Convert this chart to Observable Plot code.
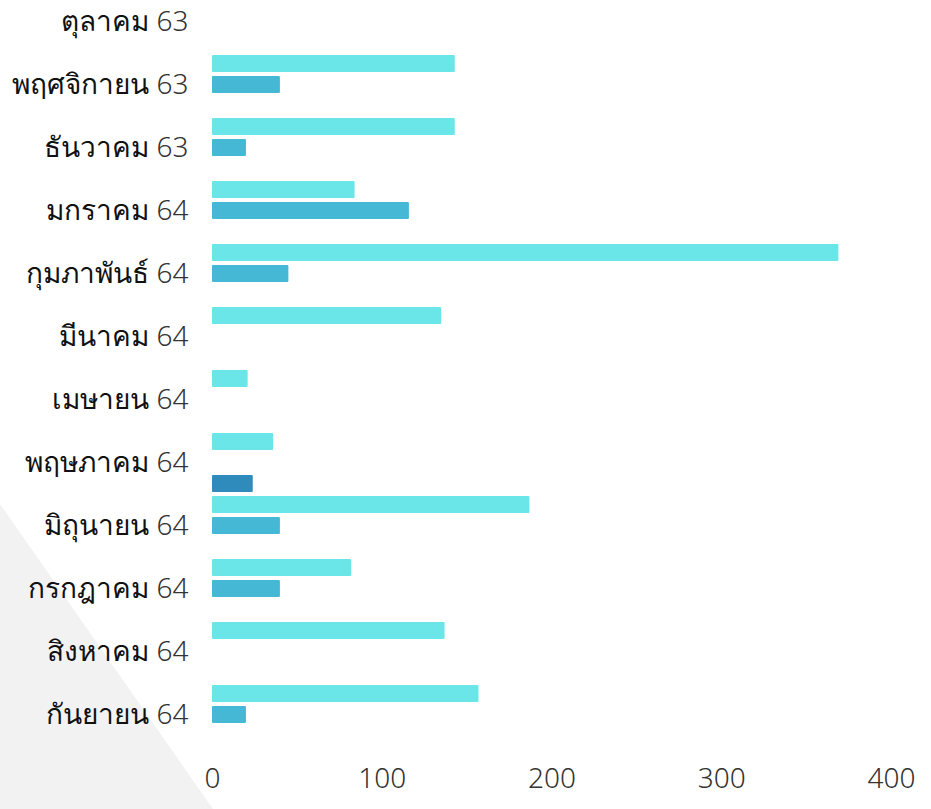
<!DOCTYPE html>
<html>
<head>
<meta charset="utf-8">
<script src="https://cdn.jsdelivr.net/npm/d3@7"></script>
<script src="https://cdn.jsdelivr.net/npm/@observablehq/plot@0.6"></script>
<style>
  html, body { margin: 0; padding: 0; background: #ffffff; }
  #wrap { position: relative; width: 931px; height: 809px; overflow: hidden; }
  #tri { position: absolute; left: 0; top: 0; width: 931px; height: 809px; background: #f2f2f2;
         clip-path: polygon(0px 504px, 213px 809px, 0px 809px); }
  #chart { position: absolute; left: 0; top: 0; }
  #chart svg { overflow: visible; }
</style>
</head>
<body>
<div id="wrap"><div id="tri"></div><div id="chart"></div></div>
<script>
const months = ["ตุลาคม 63", "พฤศจิกายน 63", "ธันวาคม 63", "มกราคม 64", "กุมภาพันธ์ 64", "มีนาคม 64",
                "เมษายน 64", "พฤษภาคม 64", "มิถุนายน 64", "กรกฎาคม 64", "สิงหาคม 64", "กันยายน 64"];
const seriesNames = ["ชุดที่ 1", "ชุดที่ 2", "ชุดที่ 3"];
const seriesColors = ["#6ae6e8", "#45b8d6", "#2e8bbc"];
const values1 = [null, 143, 143, 84, 369, 135, 21, 36, 187, 82, 137, 157];
const values2 = [null, 40, 20, 116, 45, null, null, null, 40, 40, null, 20];
const values3 = [null, null, null, null, null, null, null, 24, null, null, null, null];
const xTicks = [0, 100, 200, 300, 400];

const allValues = [values1, values2, values3];
const data = [];
months.forEach((m, i) => {
  seriesNames.forEach((s, j) => {
    const v = allValues[j][i];
    if (v != null) data.push({month: m, series: s, value: v});
  });
});

const chart = Plot.plot({
  width: 931,
  height: 809,
  marginLeft: 212,
  marginRight: 40,
  marginTop: 0,
  marginBottom: 62,
  style: {background: "transparent", fontFamily: "'Noto Sans', sans-serif", fontSize: "28px", color: "#222"},
  x: {domain: [0, 400], ticks: xTicks, label: null, tickSize: 0, tickPadding: 22, axis: "bottom"},
  y: {domain: seriesNames, axis: null, paddingInner: 0.2, paddingOuter: 0.05},
  fy: {domain: months, range: [-13, 749], padding: 0, label: null, tickSize: 0, tickPadding: 24, axis: "left"},
  color: {domain: seriesNames, range: seriesColors},
  facet: {data: data, y: "month"},
  marks: [
    Plot.barX(data, {x: "value", y: "series", fill: "series", rx: 1})
  ]
});
document.getElementById("chart").appendChild(chart);

// split month labels into a regular month name and a light year
const svg = d3.select(chart);
svg.selectAll("g[aria-label^='fy-axis'] text").each(function() {
  const t = d3.select(this);
  const s = t.text();
  const k = s.lastIndexOf(" ");
  if (k < 0) return;
  t.text(null);
  t.append("tspan").attr("font-weight", 400).attr("fill", "#111").text(s.slice(0, k));
  t.append("tspan").attr("font-weight", 300).attr("fill", "#333").text(" " + s.slice(k + 1));
});
svg.selectAll("g[aria-label^='x-axis'] text").attr("font-weight", 300).attr("fill", "#333");
</script>
</body>
</html>
